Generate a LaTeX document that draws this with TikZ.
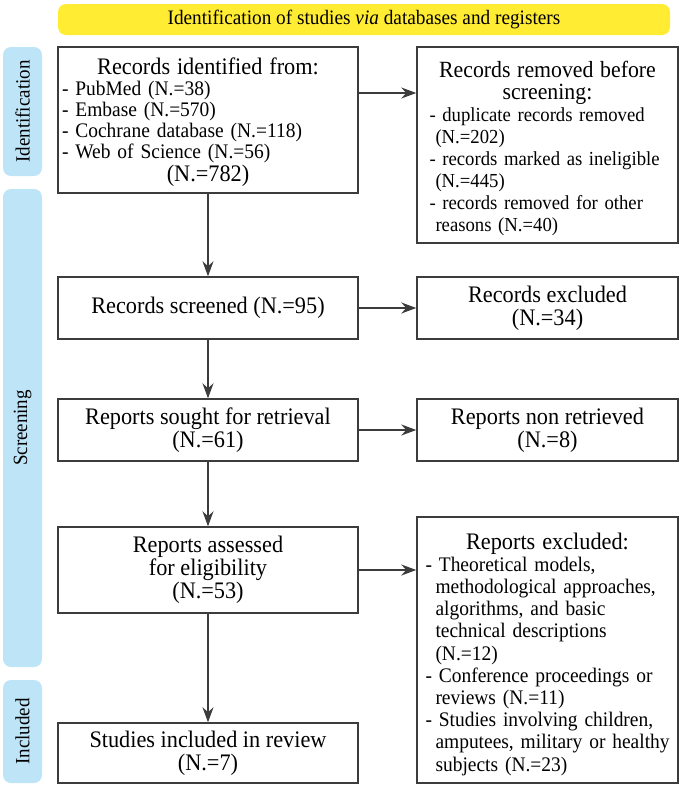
\documentclass[tikz,border=0pt]{standalone}
\usepackage{fontspec}
\setmainfont{Liberation Serif}[FakeStretch=0.94]
\usetikzlibrary{arrows.meta,calc}
\definecolor{bannery}{RGB}{255,236,51}
\definecolor{sideblue}{RGB}{190,228,248}
\definecolor{boxline}{RGB}{60,60,60}
\newcommand{\hfnt}{\fontsize{23.7}{23}\selectfont}
\newcommand{\lfnta}{\fontsize{20.7}{21}\selectfont}
\newcommand{\lfntb}{\fontsize{20.7}{22.2}\selectfont}
\newcommand{\lfntc}{\fontsize{19.9}{22}\selectfont}
\newcommand{\lineitem}[1]{\mbox{#1}}
\hyphenpenalty=10000
\begin{document}
\begin{tikzpicture}[x=1pt,y=-1pt,
  box/.style={draw=boxline,line width=1.4pt,inner sep=0pt,align=center,font=\hfnt},
  frame/.style={draw=boxline,line width=1.4pt,inner sep=0pt},
  listtext/.style={inner sep=0pt,align=left},
  side/.style={fill=sideblue,rounded corners=8pt,inner sep=0pt,minimum height=39pt,font=\fontsize{20.2}{21}\selectfont,rotate=90},
  arr/.style={draw=boxline,line width=1.4pt,-{Stealth[length=15pt,width=11pt]}}]
\useasboundingbox (0,0) rectangle (680,785);
% banner
\node[fill=bannery,rounded corners=8pt,minimum width=612pt,minimum height=31pt,inner sep=0pt,font=\fontsize{20.5}{21}\selectfont] (banner) at (364,19.5) {Identification of studies \textit{via} databases and registers};
% side bars
\node[side,minimum width=129pt] (sid) at (22.5,111.5) {Identification};
\node[side,minimum width=478pt] (sscr) at (22.5,428) {Screening};
\node[side,minimum width=103pt] (sinc) at (22.5,731.5) {Included};
% boxes with lists
\node[frame,minimum width=300pt,minimum height=146pt] (box1) at (208,120) {};
\node[listtext,font=\lfnta,text width=292pt] (box1text) at ([yshift=-2pt]box1.center)
 {{\centering\hfnt Records identified from:\par}
  \lineitem{- PubMed (N.=38)}\\
  \lineitem{- Embase (N.=570)}\\
  \lineitem{- Cochrane database (N.=118)}\\
  \lineitem{- Web of Science (N.=56)}\par
  {\centering\hfnt (N.=782)\par}};
\node[frame,minimum width=261pt,minimum height=196pt] (removed) at (547.5,145) {};
\node[listtext,font=\lfntc,text width=236pt] (removedtext) at ([yshift=-3pt]removed.center)
 {{\centering\fontsize{23.2}{22}\selectfont Records removed before\\ screening:\par}
  \lineitem{- duplicate records removed}\\
  \lineitem{\hspace*{6pt}(N.=202)}\\
  \lineitem{- records marked as ineligible}\\
  \lineitem{\hspace*{6pt}(N.=445)}\\
  \lineitem{- records removed for other}\\
  \lineitem{\hspace*{6pt}reasons (N.=40)}};
\node[frame,minimum width=261pt,minimum height=266pt] (repexc) at (547.5,650) {};
\node[listtext,font=\lfntb,text width=244pt] (repexctext) at ([yshift=-4pt]repexc.center)
 {{\centering\hfnt Reports excluded:\par}
  \lineitem{- Theoretical models,}\\
  \lineitem{\hspace*{10pt}methodological approaches,}\\
  \lineitem{\hspace*{10pt}algorithms, and basic}\\
  \lineitem{\hspace*{10pt}technical descriptions}\\
  \lineitem{\hspace*{10pt}(N.=12)}\\
  \lineitem{- Conference proceedings or}\\
  \lineitem{\hspace*{10pt}reviews (N.=11)}\\
  \lineitem{- Studies involving children,}\\
  \lineitem{\hspace*{10pt}amputees, military or healthy}\\
  \lineitem{\hspace*{10pt}subjects (N.=23)}};
% simple boxes
\node[box,minimum width=300pt,minimum height=62pt] (screened) at (208,308) {Records screened (N.=95)};
\node[box,minimum width=261pt,minimum height=62pt] (excl) at (547.5,308) {Records excluded\\(N.=34)};
\node[box,minimum width=300pt,minimum height=62pt] (sought) at (208,430) {Reports sought for retrieval\\(N.=61)};
\node[box,minimum width=261pt,minimum height=62pt] (nonret) at (547.5,430) {Reports non retrieved\\(N.=8)};
\node[box,minimum width=300pt,minimum height=86pt] (assessed) at (208,570) {Reports assessed\\for eligibility\\(N.=53)};
\node[box,minimum width=300pt,minimum height=60pt] (incl) at (208,753) {Studies included in review\\(N.=7)};
% arrows
\draw[arr] ([yshift=27pt]box1.east) coordinate (s1) -- (s1 -| removed.west);
\draw[arr] (box1.south) -- (screened.north);
\draw[arr] (screened.east) -- (excl.west);
\draw[arr] (screened.south) -- (sought.north);
\draw[arr] (sought.east) -- (nonret.west);
\draw[arr] (sought.south) -- (assessed.north);
\draw[arr] (assessed.east) -- (assessed.east -| repexc.west);
\draw[arr] (assessed.south) -- (incl.north);
\end{tikzpicture}
\end{document}
